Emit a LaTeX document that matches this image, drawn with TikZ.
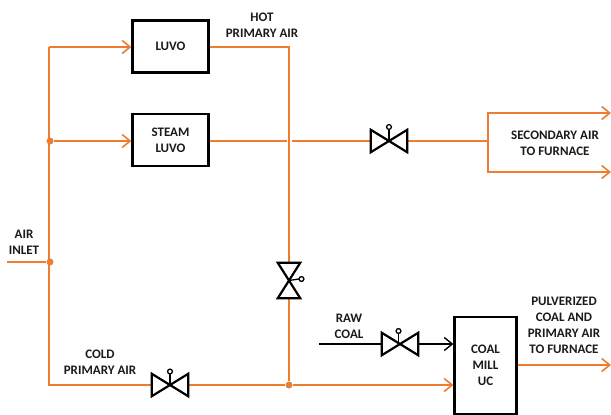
\documentclass[tikz,border=0pt]{standalone}
\usepackage{fontspec}
\setmainfont{Carlito}
\usetikzlibrary{arrows.meta}
\definecolor{pipe}{HTML}{ED7D31}
\definecolor{ink}{HTML}{1A1A1A}
\tikzset{
  flow/.style={draw=pipe,line width=1.8pt,line join=miter},
  feed/.style={flow,-{Straight Barb[length=8pt,width=13pt,line width=1.6pt]}},
  coalline/.style={draw=black,line width=1.4pt,-{Straight Barb[length=8pt,width=13pt,line width=1.4pt]}},
  equip/.style={draw=black,line width=2.2pt,fill=white,font=\bfseries\fontsize{13}{16}\selectfont,text=ink,align=center,inner sep=0pt,minimum width=76pt,minimum height=52pt},
  lbl/.style={font=\bfseries\fontsize{13}{16}\selectfont,text=ink,align=center,inner sep=0pt},
  valvebox/.style={inner sep=0pt,minimum width=36pt,minimum height=22pt},
  valvevbox/.style={inner sep=0pt,minimum width=22pt,minimum height=35pt},
  valveline/.style={draw=black,line width=2.2pt,line join=miter},
  stem/.style={draw=black,line width=1.3pt},
  junction/.style={circle,fill=pipe,inner sep=0pt,minimum size=7pt}
}
\newcommand{\hvalveshape}[1]{\draw[valveline] (#1.north west)--(#1.south east)--(#1.north east)--(#1.south west)--cycle;}
\newcommand{\vvalveshape}[1]{\draw[valveline] (#1.north west)--(#1.north east)--(#1.south west)--(#1.south east)--cycle;}
\begin{document}
\begin{tikzpicture}[x=1pt,y=-1pt]
\useasboundingbox (0,0) rectangle (611,415);
% equipment
\node[equip] (luvo) at (170.5,46.5) {LUVO};
\node[equip] (steam) at (170.5,140) {STEAM\\LUVO};
\node[equip,minimum width=62pt,minimum height=97pt] (mill) at (485.5,365.5) {COAL\\MILL\\UC};
% valves
\node[valvebox] (vsec) at (389,141) {};
\node[valvebox] (vcold) at (170,385) {};
\node[valvebox] (vraw) at (400,344) {};
\node[valvevbox] (vhot) at (289,280.5) {};
% junctions and free ends
\node[junction] (j1) at (50,141) {};
\node[junction] (j2) at (50,262) {};
\node[junction] (j3) at (289,385) {};
\coordinate (topleft) at (49,47);
\coordinate (botleft) at (49,385);
\coordinate (inlet) at (7,262);
\coordinate (hotcorner) at (289,47);
\coordinate (gapa) at (287,141);
\coordinate (gapb) at (292,141);
\coordinate (split) at (488,141);
\coordinate (splittop) at (488,113);
\coordinate (splitbot) at (488,172);
\coordinate (outtop) at (611,113);
\coordinate (outbot) at (611,172);
\coordinate (rawstart) at (319,344);
\coordinate (millout) at (611,365);
% orange pipes
\draw[feed] (topleft) -- (luvo.west |- topleft);
\draw[flow] (topleft) -- (botleft) -- (vcold.west |- botleft);
\draw[feed] (j1) -- (steam.west |- j1);
\draw[flow] (inlet) -- (j2);
\draw[flow] (luvo.east |- hotcorner) -- (hotcorner) -- (vhot.north -| hotcorner);
\draw[flow] (vhot.south) -- (j3);
\draw[flow] (vcold.east) -- (j3);
\draw[flow] (steam.east |- gapa) -- (gapa);
\draw[flow] (gapb) -- (vsec.west);
\draw[flow] (vsec.east) -- (split);
\draw[feed] (split) -- (splittop) -- (outtop);
\draw[feed] (split) -- (splitbot) -- (outbot);
\draw[feed] (j3) -- (mill.west |- j3);
\draw[feed] (mill.east |- millout) -- (millout);
% raw coal
\draw[coalline,-] (rawstart) -- (vraw.west);
\draw[coalline] (vraw.east) -- (mill.west |- vraw);
% valve bodies
\hvalveshape{vsec}
\hvalveshape{vcold}
\hvalveshape{vraw}
\vvalveshape{vhot}
\draw[stem] (vsec.center) -- ++(0,-11.5);
\draw[stem] (vsec.center) ++(0,-14) circle (2.4pt);
\draw[stem] (vcold.center) -- ++(0,-11);
\draw[stem] (vcold.center) ++(0,-13.5) circle (2.4pt);
\draw[stem] (vraw.center) ++(-1.5,0) -- ++(0,-10.5);
\draw[stem] (vraw.center) ++(-1.5,-13) circle (2.4pt);
\draw[stem] (vhot.center) -- ++(10,-1.5);
\draw[stem] (vhot.center) ++(12.5,-1.5) circle (2.4pt);
% labels
\node[lbl] (hotlbl) at (262,25) {HOT\\PRIMARY AIR};
\node[lbl] (airlbl) at (24,242) {AIR\\INLET};
\node[lbl] (coldlbl) at (100,362) {COLD\\PRIMARY AIR};
\node[lbl] (rawlbl) at (349,326) {RAW\\COAL};
\node[lbl] (seclbl) at (555,143) {SECONDARY AIR\\TO FURNACE};
\node[lbl] (pulvlbl) at (564,325) {PULVERIZED\\COAL AND\\PRIMARY AIR\\TO FURNACE};
\end{tikzpicture}
\end{document}
